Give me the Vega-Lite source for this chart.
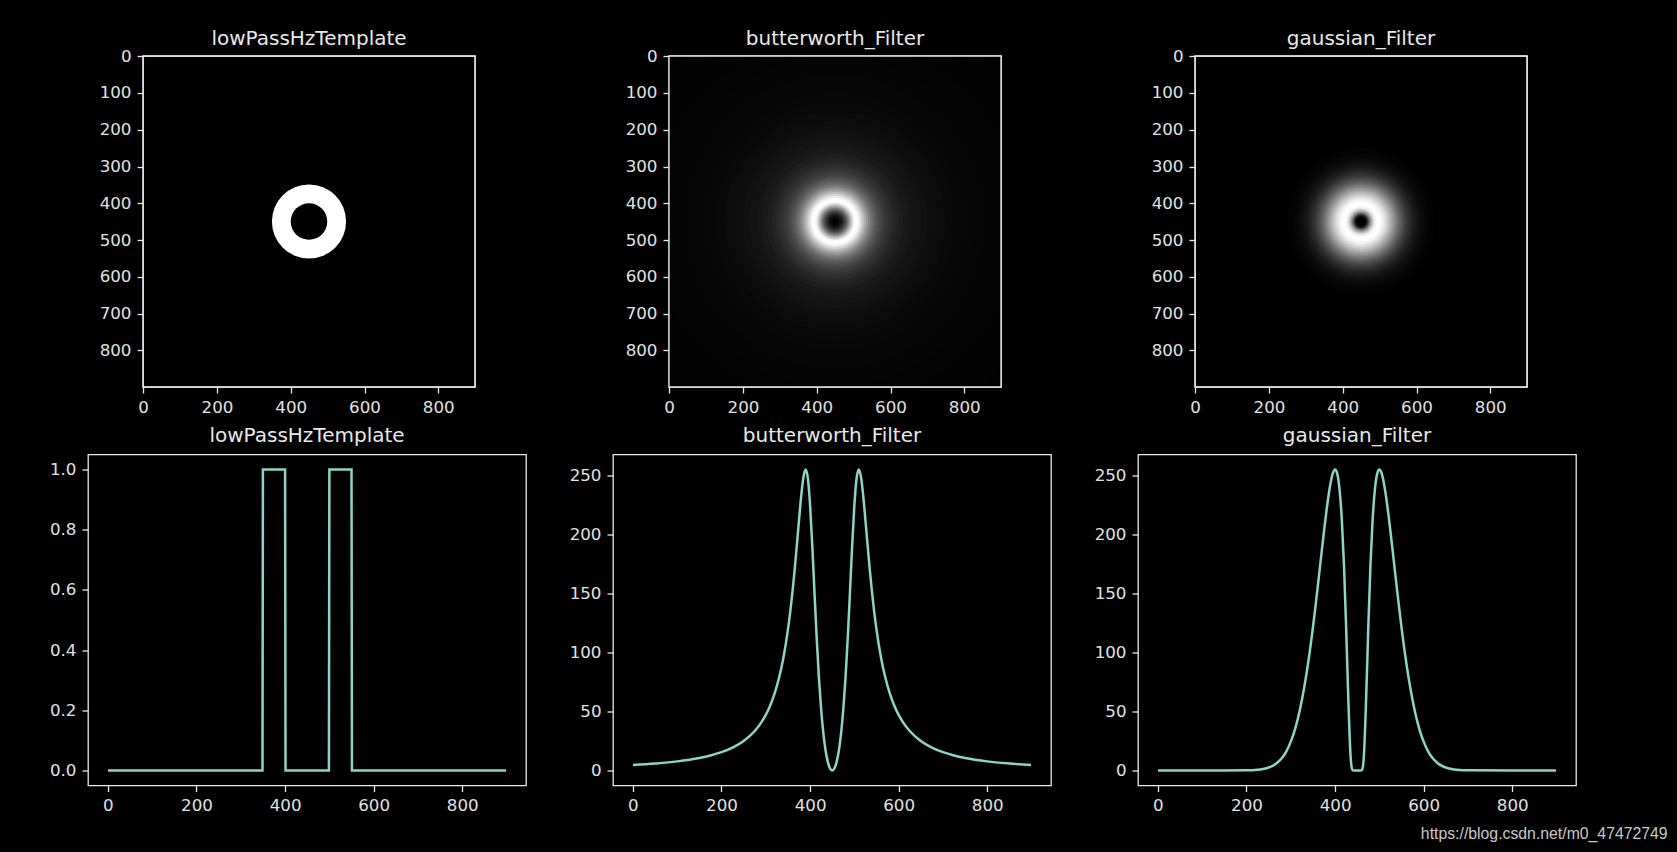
{
  "$schema": "https://vega.github.io/schema/vega-lite/v6.json",
  "background": "black",
  "padding": {"left": 40, "top": 28, "right": 15, "bottom": 25},
  "config": {
    "view": {"stroke": "#e8e8e8", "strokeWidth": 1.3, "fill": "black"},
    "axis": {"domain": false, "grid": false, "ticks": true, "tickColor": "#e8e8e8", "tickWidth": 1.3, "tickSize": 6, "labelPadding": 6, "labelColor": "#e0e0e0", "labelFont": "DejaVu Sans", "labelFontSize": 16.7, "labelFlush": false, "labelOverlap": false, "title": null},
    "title": {"color": "#e8e8e8", "font": "DejaVu Sans", "fontSize": 20, "fontWeight": "normal", "anchor": "middle", "frame": "group", "baseline": "alphabetic"}
  },
  "datasets": {
    "extent": [{"x0": -0.5, "x1": 899.5, "y0": -0.5, "y1": 899.5}],
    "tpl_img": [{"r": 100.5, "v": 1}, {"r": 49.5, "v": 0}],
    "bw_img": [{"r":640,"v":2.3},{"r":600,"v":2.6},{"r":550,"v":3.1},{"r":500,"v":3.7},{"r":450,"v":4.6},{"r":425,"v":5.2},{"r":400,"v":5.9},{"r":375,"v":6.7},{"r":350,"v":7.7},{"r":325,"v":9.0},{"r":300,"v":10.6},{"r":285,"v":11.8},{"r":275,"v":12.7},{"r":260,"v":14.3},{"r":250,"v":15.5},{"r":235,"v":17.7},{"r":225,"v":19.4},{"r":210,"v":22.5},{"r":200,"v":25},{"r":185,"v":29.6},{"r":175,"v":33.4},{"r":170,"v":35.7},{"r":160,"v":40.8},{"r":155,"v":43.8},{"r":150,"v":47.1},{"r":145,"v":50.9},{"r":140,"v":55.1},{"r":135,"v":59.9},{"r":130,"v":65.3},{"r":125,"v":71.4},{"r":120,"v":78.5},{"r":115,"v":86.6},{"r":110,"v":95.9},{"r":105,"v":106.7},{"r":100,"v":119.3},{"r":95,"v":133.8},{"r":90,"v":150.5},{"r":85,"v":169.4},{"r":80,"v":190.3},{"r":75,"v":212},{"r":70,"v":232.7},{"r":65,"v":248.6},{"r":60,"v":255},{"r":55,"v":247.5},{"r":50,"v":224.8},{"r":47.5,"v":208.6},{"r":45,"v":190.3},{"r":42.5,"v":170.6},{"r":40,"v":150.5},{"r":37.5,"v":130.7},{"r":35,"v":111.9},{"r":32.5,"v":94.4},{"r":30,"v":78.5},{"r":27.5,"v":64.2},{"r":25,"v":51.7},{"r":22.5,"v":40.8},{"r":20,"v":31.4},{"r":17.5,"v":23.5},{"r":15,"v":16.9},{"r":12.5,"v":11.5},{"r":10,"v":7.3},{"r":7.5,"v":4},{"r":5,"v":1.8},{"r":2.5,"v":0}],
    "ga_img": [{"r":250,"v":0.1},{"r":225,"v":0.6},{"r":210,"v":1.4},{"r":200,"v":2.5},{"r":190,"v":4.1},{"r":185,"v":5.2},{"r":180,"v":6.7},{"r":175,"v":8.4},{"r":170,"v":10.5},{"r":165,"v":13.1},{"r":160,"v":16.2},{"r":155,"v":19.9},{"r":150,"v":24.4},{"r":145,"v":29.5},{"r":140,"v":35.5},{"r":135,"v":42.5},{"r":130,"v":50.4},{"r":125,"v":59.4},{"r":120,"v":69.6},{"r":115,"v":80.8},{"r":110,"v":93.2},{"r":105,"v":106.7},{"r":100,"v":121.3},{"r":95,"v":136.7},{"r":90,"v":152.9},{"r":85,"v":169.5},{"r":80,"v":186.3},{"r":75,"v":202.7},{"r":70,"v":218.3},{"r":65,"v":232.4},{"r":60,"v":243.9},{"r":55,"v":251.9},{"r":50,"v":255},{"r":45,"v":251.3},{"r":40,"v":238.5},{"r":35,"v":213.9},{"r":32.5,"v":196.5},{"r":30,"v":175.1},{"r":27.5,"v":149.9},{"r":25,"v":121.3},{"r":22.5,"v":90.3},{"r":20,"v":59.4},{"r":17.5,"v":32},{"r":15,"v":12.2},{"r":12.5,"v":3},{"r":10,"v":0}],
    "tpl_line": [{"x":0,"v":0},{"x":349,"v":0},{"x":350,"v":1},{"x":400,"v":1},{"x":401,"v":0},{"x":499,"v":0},{"x":500,"v":1},{"x":550,"v":1},{"x":551,"v":0},{"x":899,"v":0}],
    "bw_line": [{"x":0,"v":4.6},{"x":50,"v":5.9},{"x":100,"v":7.7},{"x":150,"v":10.6},{"x":175,"v":12.7},{"x":200,"v":15.5},{"x":225,"v":19.4},{"x":250,"v":25.0},{"x":275,"v":33.4},{"x":290,"v":40.8},{"x":300,"v":47.1},{"x":310,"v":55.1},{"x":320,"v":65.3},{"x":330,"v":78.5},{"x":340,"v":95.9},{"x":350,"v":119.3},{"x":355,"v":133.8},{"x":360,"v":150.5},{"x":365,"v":169.4},{"x":370,"v":190.3},{"x":375,"v":212.0},{"x":380,"v":232.7},{"x":385,"v":248.6},{"x":390,"v":255},{"x":395,"v":247.5},{"x":400,"v":224.8},{"x":405,"v":190.3},{"x":410,"v":150.5},{"x":415,"v":111.9},{"x":420,"v":78.5},{"x":425,"v":51.7},{"x":430,"v":31.4},{"x":435,"v":16.9},{"x":440,"v":7.3},{"x":445,"v":1.8},{"x":450,"v":0},{"x":455,"v":1.8},{"x":460,"v":7.3},{"x":465,"v":16.9},{"x":470,"v":31.4},{"x":475,"v":51.7},{"x":480,"v":78.5},{"x":485,"v":111.9},{"x":490,"v":150.5},{"x":495,"v":190.3},{"x":500,"v":224.8},{"x":505,"v":247.5},{"x":510,"v":255},{"x":515,"v":248.6},{"x":520,"v":232.7},{"x":525,"v":212.0},{"x":530,"v":190.3},{"x":535,"v":169.4},{"x":540,"v":150.5},{"x":545,"v":133.8},{"x":550,"v":119.3},{"x":560,"v":95.9},{"x":570,"v":78.5},{"x":580,"v":65.3},{"x":590,"v":55.1},{"x":600,"v":47.1},{"x":610,"v":40.8},{"x":625,"v":33.4},{"x":650,"v":25.0},{"x":675,"v":19.4},{"x":700,"v":15.5},{"x":725,"v":12.7},{"x":750,"v":10.6},{"x":800,"v":7.7},{"x":850,"v":5.9},{"x":899,"v":4.6}],
    "ga_line": [{"x":0,"v":0},{"x":100,"v":0},{"x":200,"v":0.1},{"x":225,"v":0.6},{"x":240,"v":1.4},{"x":250,"v":2.5},{"x":260,"v":4.1},{"x":270,"v":6.7},{"x":280,"v":10.5},{"x":290,"v":16.2},{"x":300,"v":24.4},{"x":310,"v":35.5},{"x":320,"v":50.4},{"x":330,"v":69.6},{"x":340,"v":93.2},{"x":350,"v":121.3},{"x":355,"v":136.7},{"x":360,"v":152.9},{"x":365,"v":169.5},{"x":370,"v":186.3},{"x":375,"v":202.7},{"x":380,"v":218.3},{"x":385,"v":232.4},{"x":390,"v":243.9},{"x":395,"v":251.9},{"x":400,"v":255},{"x":405,"v":251.3},{"x":410,"v":238.5},{"x":415,"v":213.9},{"x":420,"v":175.1},{"x":425,"v":121.3},{"x":430,"v":59.4},{"x":435,"v":12.2},{"x":437,"v":3.6},{"x":440,"v":0.1},{"x":445,"v":0},{"x":450,"v":0},{"x":455,"v":0},{"x":460,"v":0.1},{"x":463,"v":3.6},{"x":465,"v":12.2},{"x":470,"v":59.4},{"x":475,"v":121.3},{"x":480,"v":175.1},{"x":485,"v":213.9},{"x":490,"v":238.5},{"x":495,"v":251.3},{"x":500,"v":255},{"x":505,"v":251.9},{"x":510,"v":243.9},{"x":515,"v":232.4},{"x":520,"v":218.3},{"x":525,"v":202.7},{"x":530,"v":186.3},{"x":535,"v":169.5},{"x":540,"v":152.9},{"x":545,"v":136.7},{"x":550,"v":121.3},{"x":560,"v":93.2},{"x":570,"v":69.6},{"x":580,"v":50.4},{"x":590,"v":35.5},{"x":600,"v":24.4},{"x":610,"v":16.2},{"x":620,"v":10.5},{"x":630,"v":6.7},{"x":640,"v":4.1},{"x":650,"v":2.5},{"x":660,"v":1.4},{"x":675,"v":0.6},{"x":700,"v":0.1},{"x":800,"v":0},{"x":899,"v":0}],
    "none": []
  },
  "title": {"text": "https://blog.csdn.net/m0_47472749", "orient": "bottom", "anchor": "end", "frame": "bounds", "font": "Liberation Sans", "fontSize": 15.8, "color": "#c8c8c8", "baseline": "middle", "offset": 19, "dx": 91},
  "spacing": 7.5,
  "vconcat": [
    {
      "hconcat": [
        {"width": 7, "height": 300, "data": {"name": "none"}, "mark": "point", "encoding": {}, "view": {"stroke": null, "fill": null}},
        {
          "width": 332, "height": 331, "title": {"text": "lowPassHzTemplate", "offset": -1},
          "layer": [
            {"data": {"name": "tpl_img"}, "mark": {"type": "arc", "theta": 0, "theta2": 6.2832, "clip": true},
             "encoding": {
               "radius": {"field": "r", "type": "quantitative", "stack": null, "scale": {"type": "linear", "domain": [0, 450], "range": [0, 166], "zero": true}},
               "color": {"field": "v", "type": "quantitative", "scale": {"domain": [0, 1], "range": ["#000000", "#ffffff"], "interpolate": "rgb"}, "legend": null}}},
            {"data": {"name": "extent"}, "mark": {"type": "rect", "filled": false, "stroke": "#e8e8e8", "strokeWidth": 1.3},
             "encoding": {
               "x": {"field": "x0", "type": "quantitative", "scale": {"domain": [-0.5, 899.5], "nice": false, "zero": false}, "axis": {"values": [0, 200, 400, 600, 800]}},
               "x2": {"field": "x1"},
               "y": {"field": "y0", "type": "quantitative", "scale": {"domain": [-0.5, 899.5], "reverse": true, "nice": false, "zero": false}, "axis": {"values": [0, 100, 200, 300, 400, 500, 600, 700, 800], "minExtent": 47}},
               "y2": {"field": "y1"}}}
          ]
        },
        {
          "width": 332, "height": 331, "title": {"text": "butterworth_Filter", "offset": -1},
          "layer": [
            {"data": {"name": "bw_img"}, "mark": {"type": "arc", "theta": 0, "theta2": 6.2832, "clip": true},
             "encoding": {
               "radius": {"field": "r", "type": "quantitative", "stack": null, "scale": {"type": "linear", "domain": [0, 450], "range": [0, 166], "zero": true}},
               "color": {"field": "v", "type": "quantitative", "scale": {"domain": [0, 255], "range": ["#000000", "#ffffff"], "interpolate": "rgb"}, "legend": null}}},
            {"data": {"name": "extent"}, "mark": {"type": "rect", "filled": false, "stroke": "#e8e8e8", "strokeWidth": 1.3},
             "encoding": {
               "x": {"field": "x0", "type": "quantitative", "scale": {"domain": [-0.5, 899.5], "nice": false, "zero": false}, "axis": {"values": [0, 200, 400, 600, 800]}},
               "x2": {"field": "x1"},
               "y": {"field": "y0", "type": "quantitative", "scale": {"domain": [-0.5, 899.5], "reverse": true, "nice": false, "zero": false}, "axis": {"values": [0, 100, 200, 300, 400, 500, 600, 700, 800], "minExtent": 190.5}},
               "y2": {"field": "y1"}}}
          ]
        },
        {
          "width": 332, "height": 331, "title": {"text": "gaussian_Filter", "offset": -1},
          "layer": [
            {"data": {"name": "ga_img"}, "mark": {"type": "arc", "theta": 0, "theta2": 6.2832, "clip": true},
             "encoding": {
               "radius": {"field": "r", "type": "quantitative", "stack": null, "scale": {"type": "linear", "domain": [0, 450], "range": [0, 166], "zero": true}},
               "color": {"field": "v", "type": "quantitative", "scale": {"domain": [0, 255], "range": ["#000000", "#ffffff"], "interpolate": "rgb"}, "legend": null}}},
            {"data": {"name": "extent"}, "mark": {"type": "rect", "filled": false, "stroke": "#e8e8e8", "strokeWidth": 1.3},
             "encoding": {
               "x": {"field": "x0", "type": "quantitative", "scale": {"domain": [-0.5, 899.5], "nice": false, "zero": false}, "axis": {"values": [0, 200, 400, 600, 800]}},
               "x2": {"field": "x1"},
               "y": {"field": "y0", "type": "quantitative", "scale": {"domain": [-0.5, 899.5], "reverse": true, "nice": false, "zero": false}, "axis": {"values": [0, 100, 200, 300, 400, 500, 600, 700, 800], "minExtent": 190.5}},
               "y2": {"field": "y1"}}}
          ]
        }
      ],
      "spacing": 0,
      "resolve": {"scale": {"x": "independent", "y": "independent", "color": "independent"}}
    },
    {
      "hconcat": [
        {
          "width": 438, "height": 331, "title": {"text": "lowPassHzTemplate", "offset": 9},
          "data": {"name": "tpl_line"},
          "mark": {"type": "line", "color": "#8dd3c7", "strokeWidth": 2.5},
          "encoding": {
            "x": {"field": "x", "type": "quantitative", "scale": {"domain": [-44.95, 943.95], "nice": false, "zero": false}, "axis": {"values": [0, 200, 400, 600, 800]}},
            "y": {"field": "v", "type": "quantitative", "scale": {"domain": [-0.05, 1.05], "nice": false, "zero": false}, "axis": {"values": [0, 0.2, 0.4, 0.6, 0.8, 1.0], "format": ".1f", "minExtent": 47}}
          }
        },
        {
          "width": 438, "height": 331, "title": {"text": "butterworth_Filter", "offset": 9},
          "data": {"name": "bw_line"},
          "mark": {"type": "line", "color": "#8dd3c7", "strokeWidth": 2.5, "interpolate": "monotone"},
          "encoding": {
            "x": {"field": "x", "type": "quantitative", "scale": {"domain": [-44.95, 943.95], "nice": false, "zero": false}, "axis": {"values": [0, 200, 400, 600, 800]}},
            "y": {"field": "v", "type": "quantitative", "scale": {"domain": [-12.75, 267.75], "nice": false, "zero": false}, "axis": {"values": [0, 50, 100, 150, 200, 250], "minExtent": 47}}
          }
        },
        {
          "width": 438, "height": 331, "title": {"text": "gaussian_Filter", "offset": 9},
          "data": {"name": "ga_line"},
          "mark": {"type": "line", "color": "#8dd3c7", "strokeWidth": 2.5, "interpolate": "monotone"},
          "encoding": {
            "x": {"field": "x", "type": "quantitative", "scale": {"domain": [-44.95, 943.95], "nice": false, "zero": false}, "axis": {"values": [0, 200, 400, 600, 800]}},
            "y": {"field": "v", "type": "quantitative", "scale": {"domain": [-12.75, 267.75], "nice": false, "zero": false}, "axis": {"values": [0, 50, 100, 150, 200, 250], "minExtent": 47}}
          }
        }
      ],
      "spacing": 38,
      "resolve": {"scale": {"x": "independent", "y": "independent", "color": "independent"}}
    }
  ]
}
